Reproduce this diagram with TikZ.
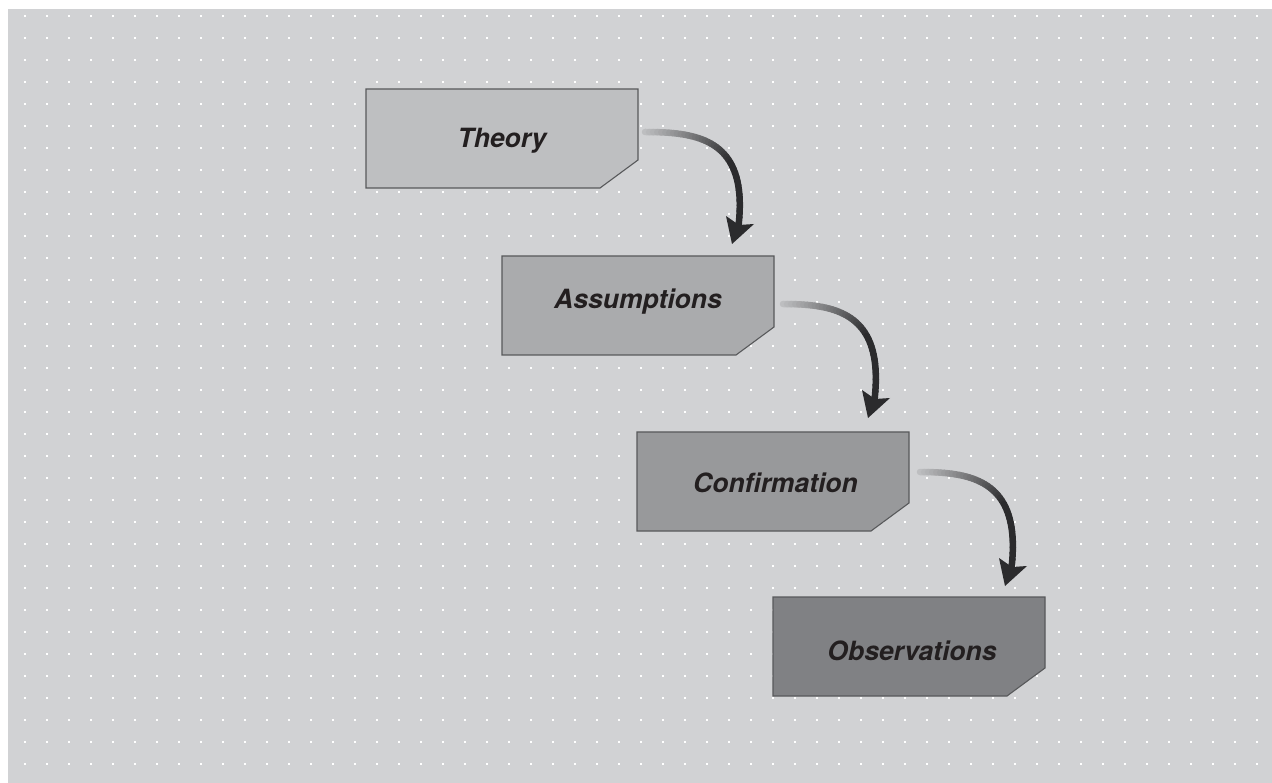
\documentclass[tikz,border=0pt]{standalone}
\usepackage{fontspec}
\setmainfont{TeX Gyre Heros}
\usetikzlibrary{calc}
\pgfdeclarelayer{back}
\pgfdeclarelayer{boxes}
\pgfsetlayers{back,boxes,main}
\definecolor{bg}{HTML}{D1D2D4}
\definecolor{fA}{HTML}{BEBFC1}
\definecolor{fB}{HTML}{AAABAD}
\definecolor{fC}{HTML}{98999B}
\definecolor{fD}{HTML}{808184}
\definecolor{edge}{HTML}{58595B}
\definecolor{txt}{HTML}{231F20}
\definecolor{arrdark}{HTML}{2B2B2D}
\tikzset{
  box/.style={minimum width=272pt, minimum height=99pt, inner sep=0pt, outer sep=0pt,
    anchor=north west, font=\fontsize{26.5}{30}\selectfont\bfseries\itshape, text=txt},
  boxline/.style={draw=edge, line width=1.1pt, line join=miter},
  arrseg/.style={line width=6.5pt, line cap=round},
}
\begin{document}
\begin{tikzpicture}[x=1pt,y=-1pt]
\useasboundingbox (0,0) rectangle (1272,783);
\begin{pgfonlayer}{back}
\fill[white] (0,0) rectangle (1272,783);
\fill[bg] (8,9) rectangle (1272,783);
\foreach \i in {0,...,56} {
  \foreach \j in {0,...,34} {
    \fill[white] ({24+22*\i},{15+22*\j}) rectangle ++(2,2);
  }
}
\end{pgfonlayer}

\node[box, text height=18pt, text depth=0pt] (theory)  at (366,89)  {Theory};
\node[box, text height=19pt, text depth=13pt] (assum)   at (502,256) {Assumptions};
\node[box, text height=23pt, text depth=0pt] (confirm) at (637,432) {\hspace*{5pt}Confirmation};
\node[box, text height=28pt, text depth=0pt] (obs)     at (773,597) {\hspace*{6pt}Observations};

\begin{pgfonlayer}{boxes}
\foreach \n/\c in {theory/fA, assum/fB, confirm/fC, obs/fD} {
  \filldraw[boxline, fill=\c] (\n.north west) -- (\n.north east)
    -- ([yshift=28pt]\n.south east) -- ([xshift=-38pt]\n.south east)
    -- (\n.south west) -- cycle;
}
\end{pgfonlayer}

\foreach \a/\b/\dx/\dy/\ex/\ey in {theory/assum/7/43/230/-12, assum/confirm/9/48/231/-14, confirm/obs/11/40/232/-11} {
  \coordinate (s) at ($(\a.north east)+(\dx,\dy)$);
  \coordinate (e) at ($(\b.north west)+(\ex,\ey)$);
  \path (s) .. controls ($(s)+(55,0)$) and ($(e)+(18,-104)$) .. ($(e)+(6,-14)$)
    \foreach \k [evaluate=\k as \t using \k/40] in {0,...,40} { coordinate[pos=\t] (p\k) };
  \foreach \k [evaluate=\k as \kn using int(\k+1), evaluate=\k as \pc using {min(100,12+88*\k/26)}] in {0,...,39} {
    \draw[arrseg, color=arrdark!\pc!bg] (p\k) -- (p\kn);
  }
  \fill[arrdark] (e) -- ($(e)+(-6,-28)$) -- ($(e)+(7,-19)$) -- ($(e)+(22,-20)$) -- cycle;
}
\end{tikzpicture}
\end{document}
